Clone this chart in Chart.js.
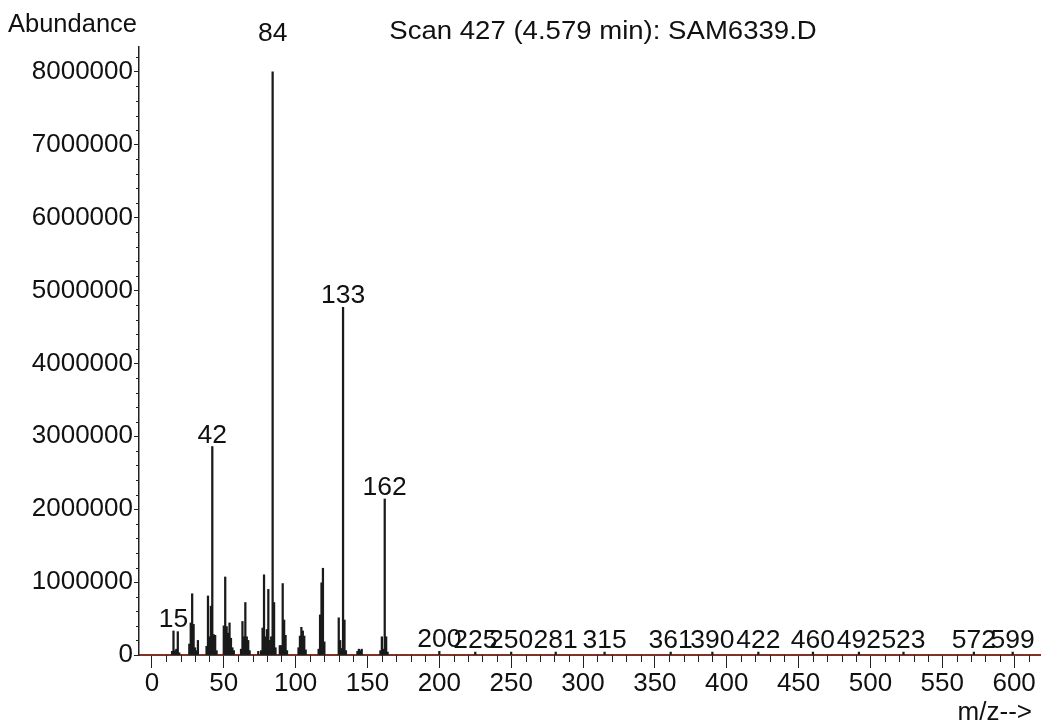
<!DOCTYPE html>
<html>
<head>
<meta charset="utf-8">
<script src="https://cdn.jsdelivr.net/npm/chart.js@4.4.1/dist/chart.umd.min.js"></script>
<style>
  html, body { margin: 0; padding: 0; background: #fff; }
  #wrap { width: 1042px; height: 728px; position: relative; }
</style>
</head>
<body>
<div id="wrap"><canvas id="chart"></canvas></div>
<script>
// m/z values and abundances
const mzValues = [14, 15, 16, 17, 18, 19, 26, 27, 28, 29, 30, 31, 32,
    38, 39, 40, 41, 42, 43, 44, 45, 50, 51, 52, 53, 54, 55, 56, 57,
    62, 63, 64, 65, 66, 67, 68, 74, 76, 77, 78, 79, 80, 81, 82, 83, 84, 85, 86,
    89, 90, 91, 92, 93, 94, 102, 103, 104, 105, 106, 107,
    116, 117, 118, 119, 120, 130, 131, 132, 133, 134, 135,
    143, 144, 145, 146, 159, 160, 161, 162, 163, 164,
    200, 225, 250, 281, 315, 361, 390, 422, 460, 492, 523, 572, 599];
const abundances = [50000, 330000, 60000, 80000, 320000, 30000, 150000, 440000, 840000, 420000, 100000, 60000, 200000,
    120000, 810000, 250000, 670000, 2860000, 280000, 270000, 60000, 400000, 1070000, 390000, 300000, 440000, 230000, 100000, 60000,
    80000, 460000, 250000, 720000, 250000, 200000, 60000, 50000, 60000, 370000, 1100000, 250000, 350000, 900000, 200000, 250000, 8000000, 720000, 100000,
    130000, 130000, 980000, 480000, 270000, 60000, 100000, 260000, 380000, 330000, 260000, 70000,
    80000, 550000, 990000, 1190000, 180000, 510000, 200000, 90000, 4770000, 480000, 60000,
    50000, 80000, 60000, 80000, 60000, 250000, 80000, 2140000, 250000, 40000,
    50000, 40000, 40000, 40000, 40000, 40000, 40000, 40000, 40000, 40000, 40000, 40000, 40000];

// peaks that carry an m/z label
const labelledPeaks = [15, 42, 84, 133, 162, 200, 225, 250, 281, 315, 361, 390, 422, 460, 492, 523, 572, 599];

// axis tick labels
const xTickValues = [0, 50, 100, 150, 200, 250, 300, 350, 400, 450, 500, 550, 600];
const yTickValues = [0, 1000000, 2000000, 3000000, 4000000, 5000000, 6000000, 7000000, 8000000];

const titleText = 'Scan 427 (4.579 min): SAM6339.D';
const yAxisText = 'Abundance';
const xAxisText = 'm/z-->';

const fontFamily = '"Liberation Sans", Arial, sans-serif';

const points = mzValues.map((mz, i) => ({ x: mz, y: abundances[i] }));
const basePeak = Math.max(...abundances);

// text a little wider than the font, like the scanned print
function wideText(ctx, text, x, y, stretch) {
    ctx.save();
    ctx.translate(x, y);
    ctx.scale(stretch, 1);
    ctx.fillText(text, 0, 0);
    ctx.restore();
}

const extrasPlugin = {
    id: 'extras',
    afterDatasetsDraw(chart) {
        const ctx = chart.ctx;
        const xs = chart.scales.x;
        const ys = chart.scales.y;
        const area = chart.chartArea;
        ctx.save();
        ctx.fillStyle = '#111';
        ctx.font = '25px ' + fontFamily;

        // peak labels (base peak label sits at the top of the plot)
        ctx.textAlign = 'center';
        ctx.textBaseline = 'alphabetic';
        labelledPeaks.forEach(mz => {
            const i = mzValues.indexOf(mz);
            if (i < 0) return;
            const px = xs.getPixelForValue(mz);
            let py = ys.getPixelForValue(abundances[i]) - 4;
            if (abundances[i] === basePeak) py = area.top - 6;
            wideText(ctx, String(mz), px, py, 1.06);
        });

        // minor ticks
        ctx.strokeStyle = '#222';
        ctx.lineWidth = 1;
        ctx.beginPath();
        for (let v = -10; v <= 610; v += 10) {
            if (v % 50 === 0) continue;
            const px = Math.round(xs.getPixelForValue(v)) + 0.5;
            if (px < area.left) continue;
            ctx.moveTo(px, area.bottom);
            ctx.lineTo(px, area.bottom + 7);
        }
        for (let v = 0; v <= 8300000; v += 200000) {
            if (v % 1000000 === 0) continue;
            const py = Math.round(ys.getPixelForValue(v)) + 0.5;
            ctx.moveTo(area.left - 3, py);
            ctx.lineTo(area.left, py);
        }
        ctx.stroke();

        // axis captions and title
        ctx.textBaseline = 'middle';
        ctx.textAlign = 'left';
        wideText(ctx, yAxisText, 8, 25, 1.02);
        ctx.textAlign = 'center';
        ctx.font = '26px ' + fontFamily;
        wideText(ctx, titleText, 603, 32, 1.06);
        ctx.textAlign = 'right';
        ctx.font = '25px ' + fontFamily;
        wideText(ctx, xAxisText, 1032, 713, 1.04);
        ctx.restore();
    }
};

const ctx = document.getElementById('chart').getContext('2d');
const chart = new Chart(ctx, {
    type: 'bar',
    data: {
        datasets: [{
            label: titleText,
            data: points,
            backgroundColor: '#1a1a1a',
            borderWidth: 0,
            barThickness: 1.6,
            grouped: false
        }]
    },
    options: {
        responsive: true,
        maintainAspectRatio: false,
        animation: false,
        layout: { padding: { top: 47, right: 2, left: 0, bottom: 0 } },
        plugins: {
            legend: { display: false },
            tooltip: { enabled: false },
            title: { display: false }
        },
        scales: {
            x: {
                type: 'linear',
                offset: false,
                min: -9,
                max: 618,
                afterFit: scale => { scale.height = 73; },
                afterBuildTicks: scale => {
                    scale.ticks = xTickValues.map(v => ({ value: v }));
                },
                ticks: {
                    color: '#111',
                    font: { family: fontFamily, size: 26 },
                    padding: 0,
                    maxRotation: 0,
                    autoSkip: false
                },
                grid: {
                    offset: false,
                    drawOnChartArea: false,
                    drawTicks: true,
                    tickLength: 13,
                    tickColor: '#222'
                },
                border: { color: '#7d3426', width: 2 }
            },
            y: {
                min: 0,
                max: 8340000,
                afterFit: scale => { scale.width = 139; },
                afterBuildTicks: scale => {
                    scale.ticks = yTickValues.map(v => ({ value: v }));
                },
                ticks: {
                    color: '#111',
                    font: { family: fontFamily, size: 26 },
                    padding: 1,
                    autoSkip: false,
                    callback: v => String(v)
                },
                grid: {
                    drawOnChartArea: false,
                    drawTicks: true,
                    tickLength: 5,
                    tickColor: '#222'
                },
                border: { color: '#222', width: 1.5 }
            }
        }
    },
    plugins: [extrasPlugin]
});
</script>
</body>
</html>
